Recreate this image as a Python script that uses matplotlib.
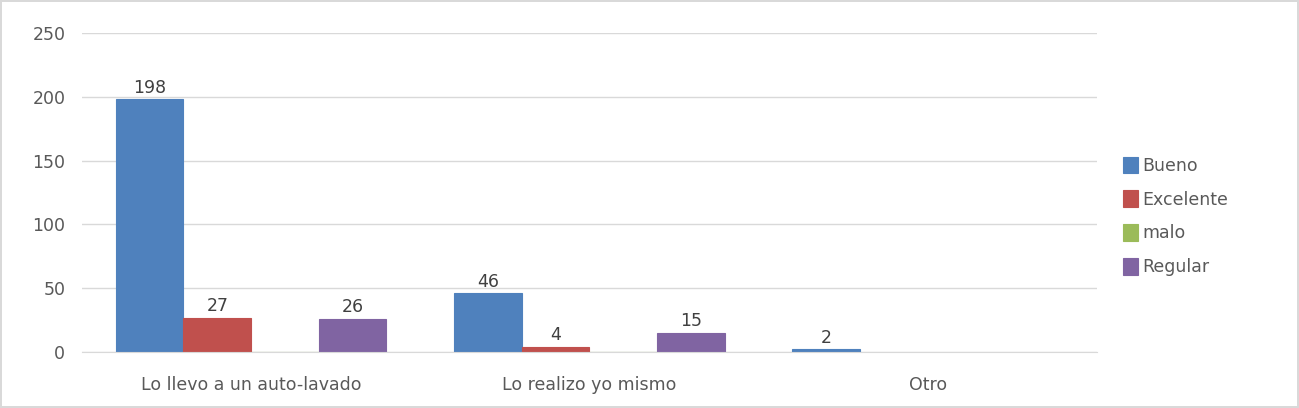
import numpy as np
import matplotlib.pyplot as plt

categories = ["Lo llevo a un auto-lavado", "Lo realizo yo mismo", "Otro"]
series = ["Bueno", "Excelente", "malo", "Regular"]
bueno = [198, 46, 2]
excelente = [27, 4, np.nan]
malo = [0, 0, np.nan]
regular = [26, 15, np.nan]
values = [bueno, excelente, malo, regular]
colors = ["#4F81BD", "#C0504D", "#9BBB59", "#8064A2"]

plt.rcParams['font.family'] = ['DejaVu Sans']

fig = plt.figure(figsize=(12.99, 4.08), dpi=100)
fig.patch.set_edgecolor("#D9D9D9")
fig.patch.set_linewidth(1.5)
ax = fig.add_axes([0.0631, 0.1373, 0.7814, 0.7818])

x = np.arange(len(categories))
w = 0.2
for i, (name, vals, c) in enumerate(zip(series, values, colors)):
    pos = x - 0.3 + i * w
    bars = ax.bar(pos, vals, width=w, color=c, edgecolor=c, linewidth=0.8, label=name)
    for b, v in zip(bars, vals):
        if not np.isnan(v) and v > 0:
            ax.text(b.get_x() + b.get_width() / 2, v + 2, "%d" % v,
                    ha="center", va="bottom", fontsize=12.5, color="#404040")

ax.set_xlim(-0.5, 2.5)
ax.set_ylim(0, 250)
ax.set_yticks(range(0, 251, 50))
ax.set_xticks(x)
ax.set_xticklabels(categories)
ax.yaxis.grid(True, color="#D9D9D9", linewidth=1)
ax.set_axisbelow(True)
for s in ["top", "right", "left"]:
    ax.spines[s].set_visible(False)
ax.spines["bottom"].set_color("#D9D9D9")
ax.tick_params(axis="both", length=0, labelsize=12.5, colors="#595959")
ax.tick_params(axis="y", pad=12)
ax.tick_params(axis="x", pad=17)

ax.legend(loc="center left", bbox_to_anchor=(1.01, 0.425), frameon=False,
          fontsize=12.5, labelcolor="#595959", handlelength=0.9, handleheight=1.1,
          handletextpad=0.25, labelspacing=0.9)

fig.savefig("out.png", dpi=100)
